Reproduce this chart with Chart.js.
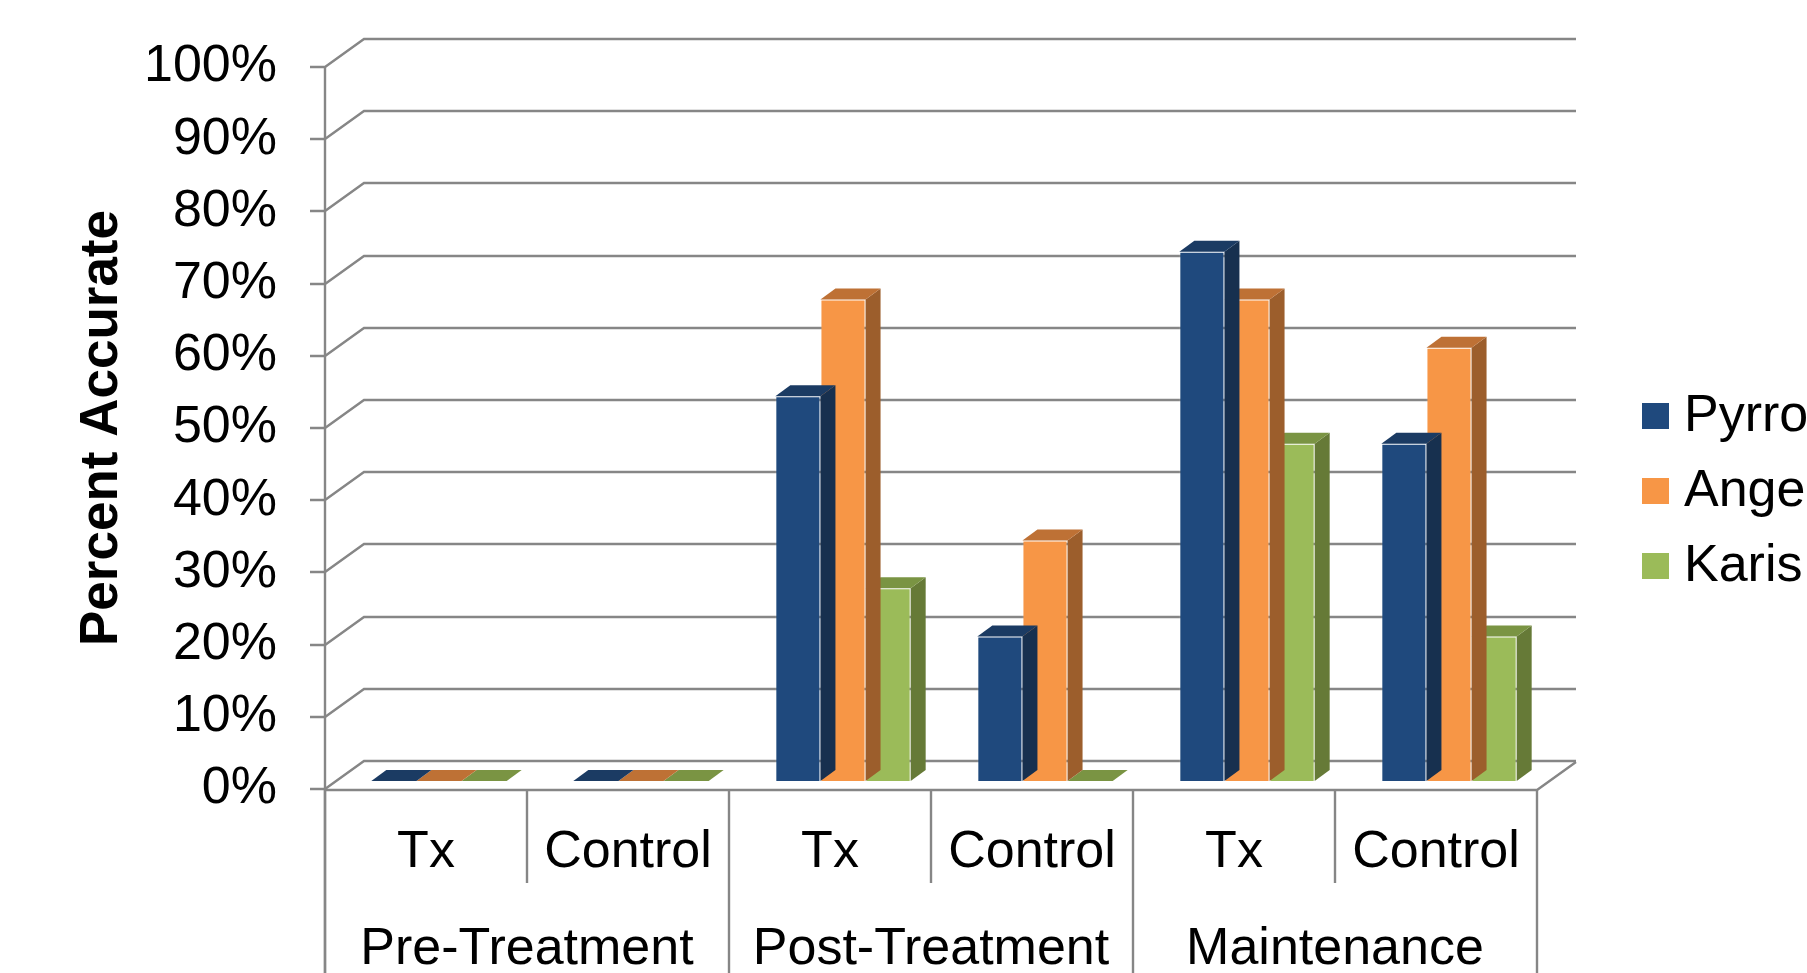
<!DOCTYPE html>
<html>
<head>
<meta charset="utf-8">
<script src="https://cdn.jsdelivr.net/npm/chart.js@4.4.1/dist/chart.umd.min.js"></script>
<style>
  html, body { margin: 0; padding: 0; background: #ffffff; }
  #wrap { width: 1807px; height: 973px; position: relative; }
</style>
</head>
<body>
<div id="wrap"><canvas id="chart"></canvas></div>
<script>
// Sessions and phases along the category axis
const categories = ['Tx', 'Control', 'Tx', 'Control', 'Tx', 'Control'];
const phases = ['Pre-Treatment', 'Post-Treatment', 'Maintenance'];

// Percent accurate per student
const pyrro = [0, 0, 53.3, 20.0, 73.3, 46.7];
const ange  = [0, 0, 66.7, 33.3, 66.7, 60.0];
const karis = [0, 0, 26.7, 0, 46.7, 20.0];

// Value axis
const yMin = 0;
const yMax = 100;
const yStep = 10;

const FONT = '"Liberation Sans", Arial, Helvetica, sans-serif';

// Face shades for the 3D columns: [front, top, side]
const shades = {
  Pyrro: ['#1F497D', '#1B3B63', '#17304F'],
  Ange:  ['#F79646', '#BE7135', '#9C5E2C'],
  Karis: ['#9BBB59', '#7A9443', '#667A37']
};

// Oblique projection: full floor depth, column front offset, column depth
const WALL = { dx: 39, dy: 28 };
const FRONT = { dx: 13, dy: 8 };
const BODY = { dx: 15, dy: 11 };
const GRID_COLOR = '#868686';

const threeD = {
  id: 'threeD',
  beforeDatasetsDraw(chart) {
    const { ctx, chartArea, scales } = chart;
    const y = scales.y, x = scales.x;
    const left = chartArea.left, right = chartArea.right;
    ctx.save();
    ctx.strokeStyle = GRID_COLOR;
    ctx.lineWidth = 2.4;
    ctx.lineCap = 'butt';
    // back-wall gridlines with their diagonal connectors and tick marks
    for (let v = yMin; v <= yMax; v += yStep) {
      const py = Math.round(y.getPixelForValue(v));
      ctx.beginPath();
      ctx.moveTo(left - 15, py);
      ctx.lineTo(left, py);
      ctx.lineTo(left + WALL.dx, py - WALL.dy);
      ctx.lineTo(right + WALL.dx, py - WALL.dy);
      ctx.stroke();
    }
    // floor front edge and right edge
    const p0 = Math.round(y.getPixelForValue(yMin));
    ctx.beginPath();
    ctx.moveTo(left, p0 + 1);
    ctx.lineTo(right, p0 + 1);
    ctx.lineTo(right + WALL.dx, p0 + 1 - WALL.dy);
    ctx.stroke();
    // front vertical axis, running down through the label area
    const pTop = Math.round(y.getPixelForValue(yMax));
    ctx.beginPath();
    ctx.moveTo(left, pTop);
    ctx.lineTo(left, chart.height);
    ctx.stroke();
    // category separators; phase boundaries run to the bottom
    const slot = x.getPixelForValue(1) - x.getPixelForValue(0);
    for (let i = 0; i <= categories.length; i++) {
      const px = Math.round(x.getPixelForValue(0) - slot / 2 + i * slot);
      ctx.beginPath();
      ctx.moveTo(px, p0 + 1);
      ctx.lineTo(px, i % 2 === 0 ? chart.height : p0 + 94);
      ctx.stroke();
    }
    // phase labels under each pair of sessions
    ctx.fillStyle = '#000000';
    ctx.font = '52px ' + FONT;
    ctx.textAlign = 'center';
    ctx.textBaseline = 'alphabetic';
    phases.forEach((name, i) => {
      const cx = (x.getPixelForValue(2 * i) + x.getPixelForValue(2 * i + 1)) / 2;
      ctx.fillText(name, cx, 964);
    });
    ctx.restore();
  },
  beforeDatasetDraw(chart) {
    const ctx = chart.ctx;
    ctx.save();
    ctx.translate(FRONT.dx, -FRONT.dy);
  },
  afterDatasetDraw(chart, args) {
    const ctx = chart.ctx;
    const ds = chart.data.datasets[args.index];
    const sh = shades[ds.label];
    args.meta.data.forEach(bar => {
      const { x, y, base, width } = bar.getProps(['x', 'y', 'base', 'width'], true);
      const l = x - width / 2, r = x + width / 2;
      // side face
      ctx.fillStyle = sh[2];
      ctx.beginPath();
      ctx.moveTo(r, y);
      ctx.lineTo(r + BODY.dx, y - BODY.dy);
      ctx.lineTo(r + BODY.dx, base - BODY.dy);
      ctx.lineTo(r, base);
      ctx.closePath();
      ctx.fill();
      // top face
      ctx.fillStyle = sh[1];
      ctx.beginPath();
      ctx.moveTo(l, y);
      ctx.lineTo(r, y);
      ctx.lineTo(r + BODY.dx, y - BODY.dy);
      ctx.lineTo(l + BODY.dx, y - BODY.dy);
      ctx.closePath();
      ctx.fill();
    });
    ctx.restore();
  },
  afterDraw(chart) {
    // legend on the right
    const { ctx } = chart;
    ctx.save();
    ctx.font = '52px ' + FONT;
    ctx.textAlign = 'left';
    ctx.textBaseline = 'middle';
    chart.data.datasets.forEach((ds, i) => {
      const cy = 416 + i * 75;
      ctx.fillStyle = shades[ds.label][0];
      ctx.fillRect(1642, cy - 13, 27, 26);
      ctx.fillStyle = '#000000';
      ctx.fillText(ds.label, 1684, cy + 1);
    });
    ctx.restore();
  }
};

const mkSet = (label, data) => ({
  label,
  data,
  backgroundColor: shades[label][0],
  borderColor: 'rgba(255,255,255,0.18)',
  borderWidth: 1,
  clip: false
});

const padLeft = 71;

new Chart(document.getElementById('chart'), {
  type: 'bar',
  data: {
    labels: categories,
    datasets: [mkSet('Pyrro', pyrro), mkSet('Ange', ange), mkSet('Karis', karis)]
  },
  options: {
    responsive: true,
    maintainAspectRatio: false,
    animation: false,
    events: [],
    layout: { padding: { top: 67, right: 270, left: padLeft, bottom: 0 } },
    datasets: { bar: { categoryPercentage: 0.67, barPercentage: 1.0 } },
    plugins: {
      legend: { display: false },
      tooltip: { enabled: false }
    },
    scales: {
      x: {
        type: 'category',
        offset: true,
        grid: { display: false, drawTicks: false },
        border: { display: false },
        ticks: {
          color: '#000000',
          font: { family: FONT, size: 52 },
          padding: 32,
          maxRotation: 0,
          autoSkip: false
        },
        afterFit(s) { s.height = 973 - 789; }
      },
      y: {
        min: yMin,
        max: yMax,
        grid: { display: false, drawTicks: false },
        border: { display: false },
        ticks: {
          stepSize: yStep,
          color: '#000000',
          font: { family: FONT, size: 52 },
          padding: 48,
          callback: v => v + '%'
        },
        title: {
          display: true,
          text: 'Percent Accurate',
          color: '#000000',
          font: { family: FONT, size: 53, weight: 'bold' },
          padding: 0
        },
        afterFit(s) {
          s.width = 325 - padLeft;
          // the layout padding already leaves room for the end labels
          s.paddingTop = 0;
          s.paddingBottom = 0;
        }
      }
    }
  },
  plugins: [threeD]
});
</script>
</body>
</html>
